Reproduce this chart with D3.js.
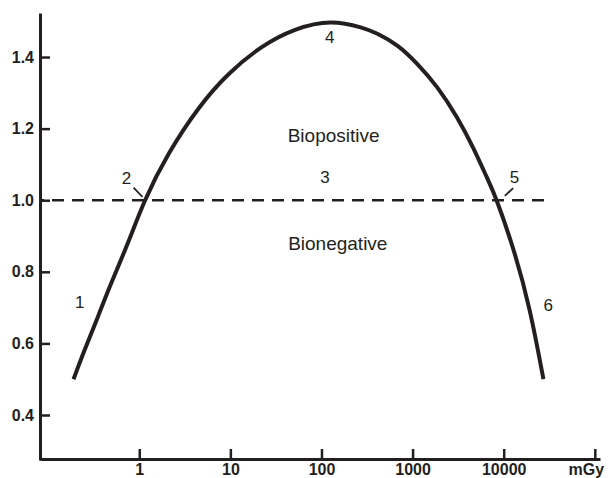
<!DOCTYPE html>
<html>
<head>
<meta charset="utf-8">
<script src="https://cdn.jsdelivr.net/npm/d3@7"></script>
<style>
  body { margin: 0; background: #fff; }
  svg { display: block; }
  text { font-family: "Liberation Sans", Arial, Helvetica, sans-serif; fill: #231f20; }
</style>
</head>
<body>
<script>
const ink = '#231f20';

// dose (mGy) vs response
const doses = [0.19, 0.252, 0.351, 0.492, 0.746, 1.16, 2.12, 4.5, 9.55, 21.9, 51.3, 126, 269, 411, 679, 1122, 1854, 3062, 4653, 6500, 8350, 12690, 19250, 27300];
const responses = [0.50, 0.582, 0.674, 0.768, 0.879, 1.0, 1.131, 1.257, 1.352, 1.427, 1.476, 1.4965, 1.483, 1.465, 1.432, 1.381, 1.316, 1.232, 1.145, 1.065, 1.0, 0.865, 0.693, 0.50];

const xTicks = [1, 10, 100, 1000, 10000, 100000];
const xTickLabels = ['1', '10', '100', '1000', '10000', 'mGy'];
const yTicks = [0.4, 0.6, 0.8, 1.0, 1.2, 1.4];

// dashed reference line at response = 1
const refValue = 1.0;
const refEnd = 33000;

// numbered points and region names (dose, response)
const noteLabels = ['1', '2', '3', '4', '5', '6', 'Biopositive', 'Bionegative'];
const noteDoses = [0.222, 0.722, 109, 123, 13100, 30800, 136, 151];
const noteValues = [0.70, 1.045, 1.047, 1.438, 1.047, 0.69, 1.162, 0.861];
const noteSizes = [17, 17, 17, 17, 17, 17, 19, 19];

// short leader lines next to 2 and 5
const leaders = [
  { from: [0.867, 1.035], to: [1.086, 1.009] },
  { from: [12690, 1.034], to: [10280, 1.012] }
];

const width = 608;
const height = 478;

const svg = d3.select('body').append('svg')
  .attr('width', width)
  .attr('height', height);

const x = d3.scaleLog()
  .domain([0.0814, 114000])
  .range([40, 600]);

const y = d3.scaleLinear()
  .domain([0.2743, 1.523])
  .range([460, 13]);

// axes
const yAxis = svg.append('g')
  .attr('transform', 'translate(40,0)')
  .call(d3.axisLeft(y).tickValues(yTicks).tickFormat(d3.format('.1f'))
    .tickSizeInner(-10).tickSizeOuter(0).tickPadding(6));

const xAxis = svg.append('g')
  .attr('transform', 'translate(0,459)')
  .call(d3.axisBottom(x).tickValues(xTicks).tickFormat((d, i) => xTickLabels[i])
    .tickSizeInner(-10).tickSizeOuter(0).tickPadding(5));

[xAxis, yAxis].forEach(g => {
  g.select('.domain').attr('stroke', ink).attr('stroke-width', 3);
  g.selectAll('.tick line').attr('stroke', ink).attr('stroke-width', 2.5);
  g.selectAll('.tick text')
    .attr('fill', ink)
    .style('font-size', '16px')
    .style('font-weight', 'bold');
});
xAxis.selectAll('.tick text').filter(d => d === 100000).attr('dx', '-9');

// reference line
svg.append('line')
  .attr('x1', x.range()[0])
  .attr('x2', x(refEnd))
  .attr('y1', y(refValue))
  .attr('y2', y(refValue))
  .attr('stroke', ink)
  .attr('stroke-width', 2.5)
  .attr('stroke-dasharray', '12,8')
  .attr('stroke-dashoffset', 8);

// response curve
const line = d3.line()
  .x(d => x(d[0]))
  .y(d => y(d[1]))
  .curve(d3.curveNatural);

svg.append('path')
  .datum(d3.zip(doses, responses))
  .attr('d', line)
  .attr('fill', 'none')
  .attr('stroke', ink)
  .attr('stroke-width', 4);

// leaders
svg.selectAll('line.leader').data(leaders)
  .join('line')
  .attr('class', 'leader')
  .attr('x1', d => x(d.from[0]))
  .attr('y1', d => y(d.from[1]))
  .attr('x2', d => x(d.to[0]))
  .attr('y2', d => y(d.to[1]))
  .attr('stroke', ink)
  .attr('stroke-width', 1.8);

// labels
svg.selectAll('text.note').data(noteLabels)
  .join('text')
  .attr('class', 'note')
  .attr('x', (d, i) => x(noteDoses[i]))
  .attr('y', (d, i) => y(noteValues[i]))
  .attr('text-anchor', 'middle')
  .style('font-size', (d, i) => noteSizes[i] + 'px')
  .text(d => d);
</script>
</body>
</html>
